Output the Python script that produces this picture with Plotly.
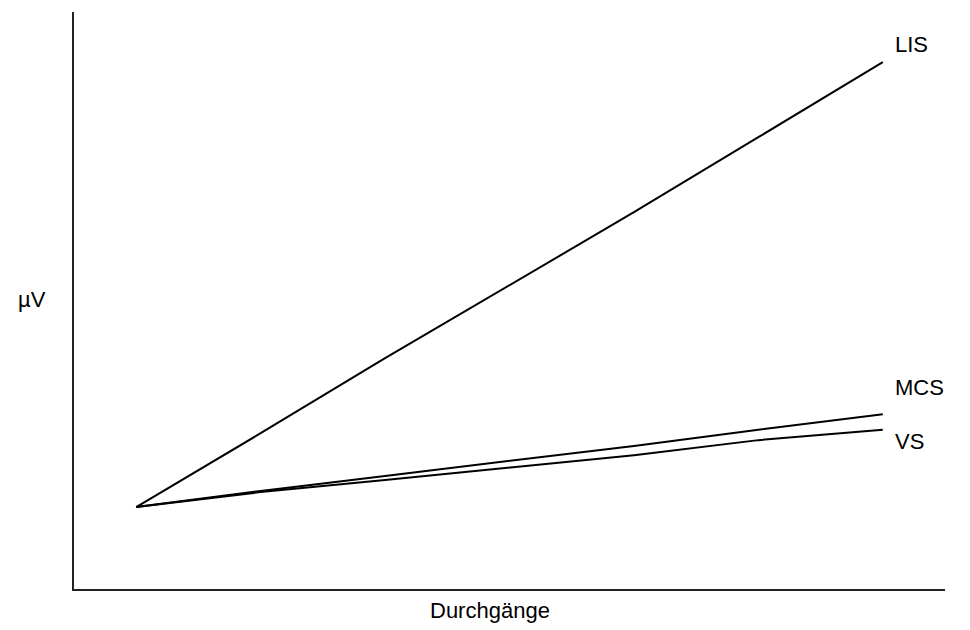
import plotly.graph_objects as go

# Durchgänge (x positions, arbitrary units; no tick labels shown)
durchgaenge = [1, 2, 3, 4, 5, 6, 7]
# µV values (arbitrary units)
lis = [14.2, 27.0, 40.0, 52.7, 65.3, 78.3, 91.3]
mcs = [14.2, 17.0, 19.6, 22.2, 24.8, 27.6, 30.3]
vs = [14.2, 16.8, 18.9, 21.1, 23.2, 25.8, 27.6]
series_names = ["LIS", "MCS", "VS"]

FONT = "Liberation Sans, Arial, sans-serif"
FS = 22
fig = go.Figure()
for name, vals in zip(series_names, [lis, mcs, vs]):
    fig.add_trace(go.Scatter(x=durchgaenge, y=vals, mode="lines", name=name,
                             line=dict(color="#000000", width=2)))

label_y = {"LIS": 94.3, "MCS": 35.0, "VS": 25.5}
for name in series_names:
    fig.add_annotation(x=durchgaenge[-1], y=label_y[name], text=name, showarrow=False,
                       xanchor="left", yanchor="middle", xshift=10,
                       font=dict(family=FONT, size=FS, color="#000"))

fig.add_annotation(xref="paper", yref="paper", x=-0.048, y=0.501, text="µV",
                   showarrow=False, xanchor="center", yanchor="middle",
                   font=dict(family=FONT, size=FS, color="#000"))
fig.add_annotation(xref="paper", yref="paper", x=0.4776, y=0, yshift=-21, text="Durchgänge",
                   showarrow=False, xanchor="center", yanchor="middle",
                   font=dict(family=FONT, size=FS, color="#000"))

fig.update_layout(
    width=970, height=630,
    margin=dict(l=66, r=33, t=4, b=49),
    paper_bgcolor="white", plot_bgcolor="white",
    showlegend=False,
    font=dict(family=FONT, size=FS, color="#000"),
    xaxis=dict(range=[0.5, 7.5], showgrid=False, zeroline=False, showticklabels=False,
               ticks="", showline=True, linecolor="#222", linewidth=2),
    yaxis=dict(range=[0, 100], showgrid=False, zeroline=False, showticklabels=False,
               ticks="", showline=True, linecolor="#222", linewidth=2),
)
fig.write_html("out.html")
